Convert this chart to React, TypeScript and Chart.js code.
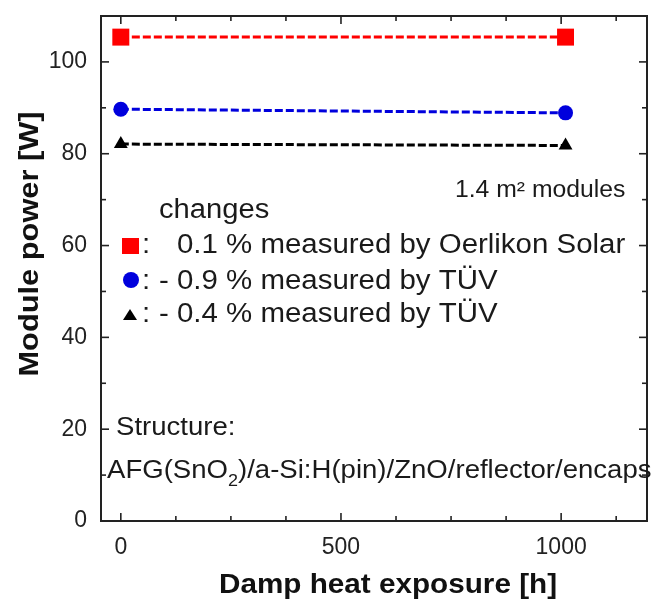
import React, { useEffect, useRef } from "react";
import { Chart, registerables } from "chart.js";
Chart.register(...registerables);

const hours = [0, 1010];
const oerlikonPower = [105.4, 105.4];
const tuvBluePower = [89.7, 88.9];
const tuvBlackPower = [82.1, 81.8];
const xMajorTicks = [0, 500, 1000];
const xMinorTicks = [125, 250, 375, 625, 750, 875, 1125];
const yMajorTicks = [0, 20, 40, 60, 80, 100];
const yMinorTicks = [10, 30, 50, 70, 90];
const xTitle = "Damp heat exposure [h]";
const yTitle = "Module power [W]";
const changesLabel = "changes";
const legendRows = [
  { colon: ":", text: "0.1 % measured by Oerlikon Solar" },
  { colon: ":", text: "- 0.9 % measured by TÜV" },
  { colon: ":", text: "- 0.4 % measured by TÜV" },
];
const moduleNote = "1.4 m² modules";
const structureLabel = "Structure:";
const structureParts = ["AFG(SnO", "2", ")/a-Si:H(pin)/ZnO/reflector/encaps"];

const FONT = "'Liberation Sans', Arial, sans-serif";
const AXIS = "#222";

function fillStretched(ctx: CanvasRenderingContext2D, text: string, x: number, y: number, sx: number) {
  ctx.save();
  ctx.translate(x, y);
  ctx.scale(sx, 1);
  ctx.fillText(text, 0, 0);
  ctx.restore();
}

const framePlugin = {
  id: "frameTicks",
  afterDraw(chart: any) {
    const ctx: CanvasRenderingContext2D = chart.ctx;
    const { left, right, top, bottom } = chart.chartArea;
    const xs = chart.scales.x;
    const ys = chart.scales.y;
    ctx.save();
    ctx.strokeStyle = AXIS;
    ctx.lineWidth = 2;
    ctx.strokeRect(left, top, right - left, bottom - top);
    ctx.lineWidth = 1.6;
    const tick = (x1: number, y1: number, x2: number, y2: number) => {
      ctx.beginPath();
      ctx.moveTo(x1, y1);
      ctx.lineTo(x2, y2);
      ctx.stroke();
    };
    const maj = 8, min = 5;
    xMajorTicks.forEach((v) => {
      const px = xs.getPixelForValue(v);
      tick(px, bottom, px, bottom - maj);
      tick(px, top, px, top + maj);
    });
    xMinorTicks.forEach((v) => {
      const px = xs.getPixelForValue(v);
      tick(px, bottom, px, bottom - min);
      tick(px, top, px, top + min);
    });
    yMajorTicks.forEach((v) => {
      const py = ys.getPixelForValue(v);
      tick(left, py, left + maj, py);
      tick(right, py, right - maj, py);
    });
    yMinorTicks.forEach((v) => {
      const py = ys.getPixelForValue(v);
      tick(left, py, left + min, py);
      tick(right, py, right - min, py);
    });

    // axis titles
    ctx.fillStyle = "#111";
    ctx.font = `bold 28px ${FONT}`;
    ctx.textAlign = "center";
    ctx.textBaseline = "alphabetic";
    fillStretched(ctx, xTitle, 388, 593, 1.06);
    ctx.save();
    ctx.translate(38, 244);
    ctx.rotate(-Math.PI / 2);
    fillStretched(ctx, yTitle, 0, 0, 1.1);
    ctx.restore();

    // annotations
    ctx.textAlign = "left";
    ctx.fillStyle = "#1a1a1a";
    ctx.font = `23px ${FONT}`;
    fillStretched(ctx, moduleNote, 455, 197, 1.075);
    ctx.font = `27px ${FONT}`;
    fillStretched(ctx, changesLabel, 159, 218, 1.08);

    const rowY = [253, 289, 322];
    // markers
    ctx.fillStyle = "#ff0000";
    ctx.fillRect(122, 238, 17, 16);
    ctx.fillStyle = "#0000dd";
    ctx.beginPath();
    ctx.arc(131, 280, 8, 0, Math.PI * 2);
    ctx.fill();
    ctx.fillStyle = "#000";
    ctx.beginPath();
    ctx.moveTo(130, 309);
    ctx.lineTo(137, 320);
    ctx.lineTo(123, 320);
    ctx.closePath();
    ctx.fill();

    ctx.fillStyle = "#1a1a1a";
    ctx.font = `27px ${FONT}`;
    legendRows.forEach((r, i) => {
      fillStretched(ctx, r.colon, 142, rowY[i], 1.09);
      fillStretched(ctx, r.text, i === 0 ? 177 : 159, rowY[i], 1.09);
    });

    ctx.font = `26px ${FONT}`;
    fillStretched(ctx, structureLabel, 116, 435, 1.06);
    ctx.save();
    ctx.translate(107, 478);
    ctx.scale(1.06, 1);
    let x = 0;
    ctx.fillText(structureParts[0], x, 0);
    x += ctx.measureText(structureParts[0]).width;
    ctx.font = `17px ${FONT}`;
    ctx.fillText(structureParts[1], x, 8);
    x += ctx.measureText(structureParts[1]).width;
    ctx.font = `26px ${FONT}`;
    ctx.fillText(structureParts[2], x, 0);
    ctx.restore();
    ctx.restore();
  },
};

const zeroPad = (s: any) => {
  s.paddingTop = 0;
  s.paddingBottom = 0;
  s.paddingLeft = 0;
  s.paddingRight = 0;
};

export default function App() {
  const ref = useRef<HTMLCanvasElement>(null);
  useEffect(() => {
    document.body.style.margin = "0";
    const ctx = ref.current!.getContext("2d")!;
    const mk = (data: number[], color: string, style: string, radius: number) => ({
      data: hours.map((h, i) => ({ x: h, y: data[i] })),
      showLine: true,
      borderColor: color,
      backgroundColor: color,
      borderWidth: 3,
      borderDash: [8, 3],
      pointStyle: style,
      pointRadius: radius,
      pointBorderWidth: 0,
      pointBackgroundColor: color,
      clip: false as any,
    });
    const chart = new Chart(ctx, {
      type: "scatter",
      data: {
        datasets: [
          mk(oerlikonPower, "#ff0000", "rect", 12),
          mk(tuvBluePower, "#0000dd", "circle", 7.5),
          mk(tuvBlackPower, "#000000", "triangle", 8),
        ],
      },
      plugins: [framePlugin],
      options: {
        animation: false,
        responsive: true,
        maintainAspectRatio: false,
        layout: { autoPadding: false, padding: { top: 16, right: 6, left: 0, bottom: 0 } },
        plugins: { legend: { display: false }, tooltip: { enabled: false } },
        scales: {
          x: {
            type: "linear",
            min: -45,
            max: 1195,
            afterFit: (s: any) => { s.height = 78; zeroPad(s); },
            grid: { display: false, drawTicks: false },
            border: { display: false },
            ticks: {
              stepSize: 500,
              includeBounds: false,
              padding: 13,
              color: AXIS,
              font: { family: FONT, size: 23 },
              maxRotation: 0,
              callback: (v: any) => String(v),
            },
            afterBuildTicks: (s: any) => { s.ticks = xMajorTicks.map((v) => ({ value: v })); },
          },
          y: {
            type: "linear",
            min: 0,
            max: 110,
            afterFit: (s: any) => { s.width = 101; zeroPad(s); },
            grid: { display: false, drawTicks: false },
            border: { display: false },
            ticks: {
              stepSize: 20,
              includeBounds: false,
              padding: 14,
              color: AXIS,
              font: { family: FONT, size: 23 },
              callback: (v: any) => String(v),
            },
            afterBuildTicks: (s: any) => { s.ticks = yMajorTicks.map((v) => ({ value: v })); },
          },
        },
      },
    });
    return () => chart.destroy();
  }, []);
  return (
    <div style={{ position: "fixed", left: 0, top: 0, width: 653, height: 599, background: "#fff" }}>
      <canvas ref={ref} width={653} height={599} />
    </div>
  );
}
